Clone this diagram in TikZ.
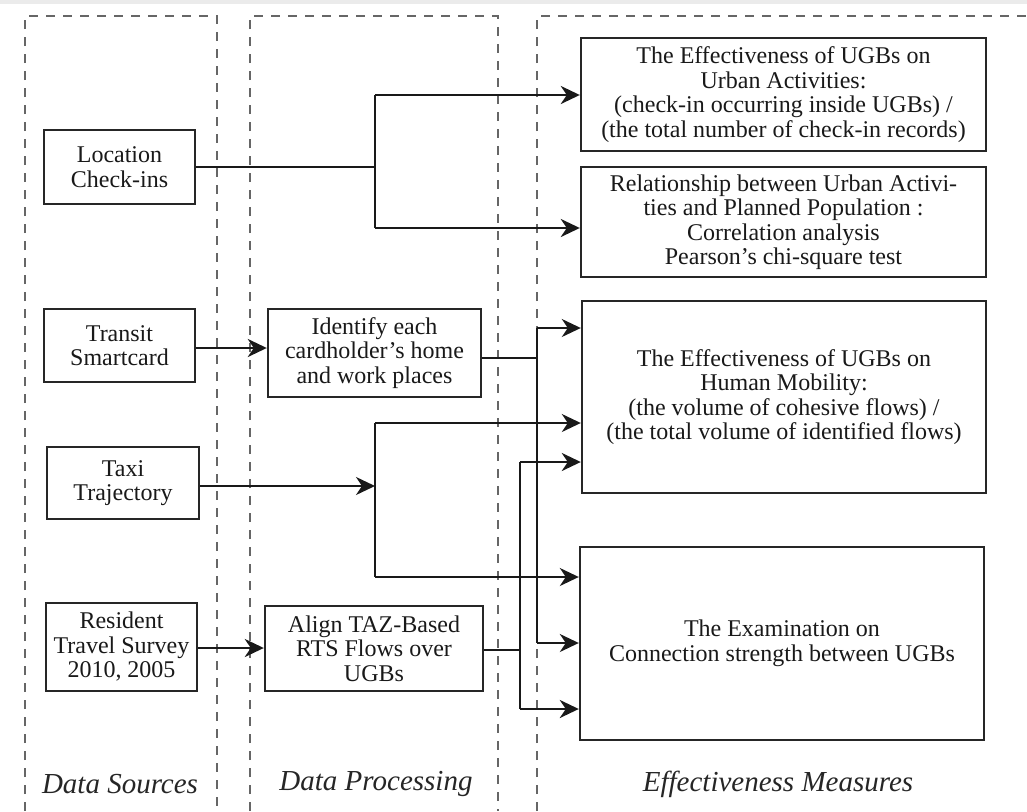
\documentclass[tikz,border=0pt]{standalone}
\usepackage{fontspec}
\setmainfont{Liberation Serif}
\usetikzlibrary{arrows.meta}
\begin{document}
\begin{tikzpicture}[x=1pt,y=-1pt,
  colframe/.style={draw=black!60, line width=1.5pt, dash pattern=on 9pt off 8pt},
  box/.style={draw=black!85, line width=2.4pt, align=center, inner sep=2pt,
     font=\fontsize{24}{24.5}\selectfont, text=black!90},
  conn/.style={draw=black!90, line width=2pt},
  thickconn/.style={draw=black!90, line width=2.6pt},
  arr/.style={conn, -{Stealth[length=19pt,width=18pt,inset=6pt]}},
  lab/.style={font=\fontsize{29}{32}\selectfont\itshape, text=black!85}
]
\useasboundingbox (0,0) rectangle (1027,811);
\fill[white] (0,0) rectangle (1027,811);
\fill[black!8] (0,0) rectangle (1027,4);
% dashed columns
\draw[colframe] (25,811) -- (25,16) -- (217,16) -- (217,811);
\draw[colframe] (250,811) -- (250,16) -- (498,16) -- (498,811);
\draw[colframe] (537,811) -- (537,16) -- (1040,16);

% sources
\node[box, minimum width=151pt, minimum height=74pt] (loc) at (119.5,167) {Location\\Check-ins};
\node[box, minimum width=151pt, minimum height=73pt] (transit) at (119.5,345.5) {Transit\\Smartcard};
\node[box, minimum width=152pt, minimum height=72pt] (taxi) at (123,483) {Taxi\\Trajectory};
\node[box, minimum width=151pt, minimum height=88pt] (rts) at (121.5,647) {Resident\\Travel Survey\\2010, 2005};

% processing
\node[box, minimum width=213pt, minimum height=88pt] (ident) at (374.5,353) {Identify each\\cardholder's home\\and work places};
\node[box, minimum width=218pt, minimum height=85pt] (align) at (374,648.5) {Align TAZ-Based\\RTS Flows over\\UGBs};

% measures
\node[box, minimum width=405pt, minimum height=113pt] (m1) at (783.5,94.5) {The Effectiveness of UGBs on\\Urban Activities:\\(check-in occurring inside UGBs) /\\(the total number of check-in records)};
\node[box, minimum width=405pt, minimum height=110pt] (m2) at (783.5,222) {Relationship between Urban Activi-\\ties and Planned Population :\\Correlation analysis\\Pearson's chi-square test};
\node[box, minimum width=404pt, minimum height=192pt] (m3) at (784,397) {The Effectiveness of UGBs on\\Human Mobility:\\(the volume of cohesive flows) /\\(the total volume of identified flows)};
\node[box, minimum width=404pt, minimum height=193pt] (m4) at (782,643.5) {The Examination on\\Connection strength between UGBs};

% labels
\node[lab] (l1) at (120,784) {Data Sources};
\node[lab] (l2) at (376,784) {Data Processing};
\node[lab] (l3) at (778,784) {Effectiveness Measures};

% junction coordinates
\coordinate (j1) at (375,167);
\coordinate (j1t) at (375,95);
\coordinate (j1b) at (375,228);
\coordinate (j2) at (537,358);
\coordinate (j2t) at (537,328);
\coordinate (j2b) at (537,643);
\coordinate (j3) at (375,486);
\coordinate (j3t) at (375,423);
\coordinate (j3b) at (375,577);
\coordinate (j4) at (520,650);
\coordinate (j4t) at (520,462);
\coordinate (j4b) at (520,709);
\coordinate (t1) at (0,348);
\coordinate (t2) at (0,648);

% location check-ins
\draw[thickconn] (loc.east) -- (j1);
\draw[thickconn] (j1t) -- (j1b);
\draw[arr, line width=2.6pt] (j1t) -- (m1.west |- j1t);
\draw[arr, line width=2.6pt] (j1b) -- (m2.west |- j1b);
% transit
\draw[arr, line width=2.6pt] (transit.east |- t1) -- (ident.west |- t1);
\draw[thickconn] (ident.east |- j2) -- (j2);
\draw[conn] (j2t) -- (j2b);
\draw[arr] (j2t) -- (m3.west |- j2t);
\draw[arr] (j2b) -- (m4.west |- j2b);
% taxi
\draw[arr] (taxi.east |- j3) -- (j3);
\draw[conn] (j3t) -- (j3b);
\draw[arr] (j3t) -- (m3.west |- j3t);
\draw[arr] (j3b) -- (m4.west |- j3b);
% resident travel survey
\draw[arr, line width=2.6pt] (rts.east |- t2) -- (align.west |- t2);
\draw[thickconn] (align.east |- j4) -- (j4);
\draw[thickconn] (j4t) -- (j4b);
\draw[arr, line width=2.6pt] (j4t) -- (m3.west |- j4t);
\draw[arr, line width=2.6pt] (j4b) -- (m4.west |- j4b);
\end{tikzpicture}
\end{document}
